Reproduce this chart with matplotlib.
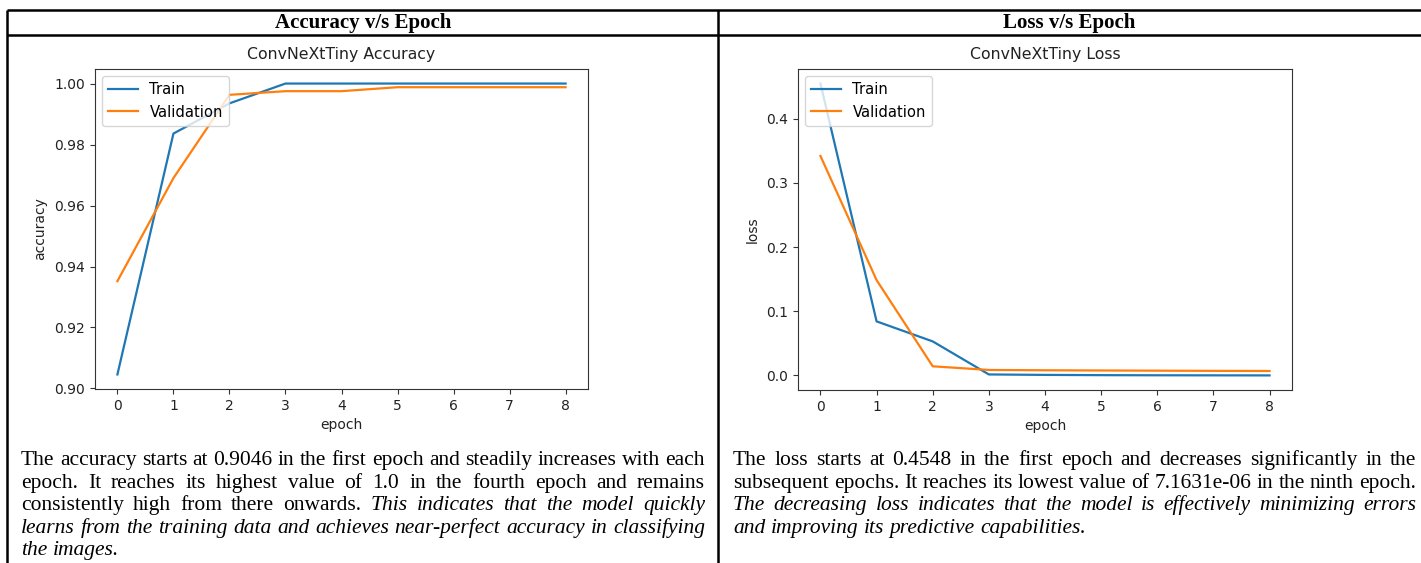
import matplotlib
matplotlib.use("Agg")
import matplotlib.pyplot as plt
from matplotlib.lines import Line2D

# ---------------- data ----------------
epochs = [0, 1, 2, 3, 4, 5, 6, 7, 8]
acc_train = [0.9046, 0.9836, 0.9935, 1.0, 1.0, 1.0, 1.0, 1.0, 1.0]
acc_val = [0.9352, 0.9690, 0.9963, 0.9975, 0.9975, 0.9988, 0.9988, 0.9988, 0.9988]
loss_train = [0.4548, 0.0842, 0.0530, 0.0015, 0.0008, 0.0004, 0.0002, 0.0001, 0.0000071631]
loss_val = [0.3420, 0.1485, 0.0142, 0.0085, 0.0080, 0.0077, 0.0074, 0.0071, 0.0069]

header_left = "Accuracy v/s Epoch"
header_right = "Loss v/s Epoch"
title_left = "ConvNeXtTiny Accuracy"
title_right = "ConvNeXtTiny Loss"
legend_labels = ["Train", "Validation"]

# paragraph lines: list of (text, italic) segments, justified flag
left_lines = [
    ([("The accuracy starts at 0.9046 in the first epoch and steadily increases with each", False)], True),
    ([("epoch. It reaches its highest value of 1.0 in the fourth epoch and remains", False)], True),
    ([("consistently high from there onwards.", False), ("This indicates that the model quickly", True)], True),
    ([("learns from the training data and achieves near-perfect accuracy in classifying", True)], True),
    ([("the images.", True)], False),
]
right_lines = [
    ([("The loss starts at 0.4548 in the first epoch and decreases significantly in the", False)], True),
    ([("subsequent epochs. It reaches its lowest value of 7.1631e-06 in the ninth epoch.", False)], True),
    ([("The decreasing loss indicates that the model is effectively minimizing errors", True)], True),
    ([("and improving its predictive capabilities.", True)], False),
]

W, H = 1421, 563
fig = plt.figure(figsize=(W / 100, H / 100), dpi=100)
fig.patch.set_facecolor("white")


def fx(px):
    return px / W


def fy(py):
    return 1 - py / H


# ---------------- table lines ----------------
lw_tab = 1.8
for (x0, y0, x1, y1) in [(7, 10, W + 5, 10), (7, 35, W + 5, 35),
                         (7, 10, 7, H + 5), (718, 10, 718, H + 5)]:
    fig.add_artist(Line2D([fx(x0), fx(x1)], [fy(y0), fy(y1)], transform=fig.transFigure,
                          color="black", lw=lw_tab, solid_capstyle="butt"))

serif = "Liberation Serif"
fig.text(fx(363), fy(23), header_left, ha="center", va="center", fontsize=15,
         fontweight="bold", family=serif)
fig.text(fx(1069), fy(23), header_right, ha="center", va="center", fontsize=15,
         fontweight="bold", family=serif)

# ---------------- charts ----------------
tick_fs = 10
ax1 = fig.add_axes([fx(95), fy(389), (588 - 95) / W, (389 - 69) / H])
ax2 = fig.add_axes([fx(798), fy(390), (1292 - 798) / W, (390 - 69) / H])

for ax, tr, va, title, ylabel in [
    (ax1, acc_train, acc_val, title_left, "accuracy"),
    (ax2, loss_train, loss_val, title_right, "loss"),
]:
    ax.plot(epochs, tr, color="#1f77b4", lw=1.6, label=legend_labels[0])
    ax.plot(epochs, va, color="#ff7f0e", lw=1.6, label=legend_labels[1])
    ax.set_title(title, fontsize=11.3, color="#222222", pad=7)
    ax.set_xlabel("epoch", fontsize=tick_fs, color="#222222")
    ax.set_ylabel(ylabel, fontsize=tick_fs, color="#222222", labelpad=5)
    ax.tick_params(labelsize=tick_fs, labelcolor="#222222", color="#333333")
    ax.set_xticks(epochs)
    for s in ax.spines.values():
        s.set_color("#333333")
    ax.legend(loc="upper left", fontsize=10.6)

ax1.set_yticks([0.90, 0.92, 0.94, 0.96, 0.98, 1.00])
ax1.set_yticklabels(["0.90", "0.92", "0.94", "0.96", "0.98", "1.00"])
ax2.set_yticks([0.0, 0.1, 0.2, 0.3, 0.4])

# ---------------- justified paragraphs ----------------
renderer = fig.canvas.get_renderer()


def words_of(segs):
    out = []
    for txt, it in segs:
        for w in txt.split():
            out.append((w, it))
    return out


def measure(word, italic, fs):
    t = fig.text(0, 0, word, fontsize=fs, family=serif, style="italic" if italic else "normal")
    w = t.get_window_extent(renderer).width
    t.remove()
    return w


def natural_width(segs, fs):
    ws = words_of(segs)
    tot = sum(measure(w, it, fs) for w, it in ws)
    return tot + (len(ws) - 1) * 0.25 * fs * 100 / 72


# font size chosen so the tightest line fills the column width
ref_w = natural_width(right_lines[1][0], 10)
body_fs = 10 * 683 / ref_w


def draw_line(segs, x0, x1, y, justify):
    ws = words_of(segs)
    widths = [measure(w, it, body_fs) for w, it in ws]
    space = 0.25 * body_fs * 100 / 72
    if justify and len(ws) > 1:
        gap = (x1 - x0 - sum(widths)) / (len(ws) - 1)
    else:
        gap = space
    x = x0
    for (w, it), wd in zip(ws, widths):
        fig.text(fx(x), fy(y), w, fontsize=body_fs, family=serif,
                 style="italic" if it else "normal", ha="left", va="baseline")
        x += wd + gap


baselines = [465, 487.6, 510.2, 532.8, 555.4]
for (segs, just), yb in zip(left_lines, baselines):
    draw_line(segs, 21, 705, yb, just)
for (segs, just), yb in zip(right_lines, baselines):
    draw_line(segs, 733, 1416, yb, just)

fig.savefig("out.png", dpi=100, facecolor="white")
